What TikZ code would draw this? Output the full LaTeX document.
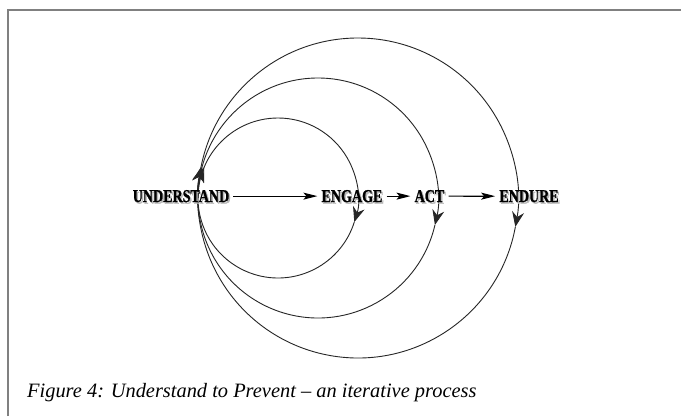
\documentclass[tikz,border=0pt]{standalone}
\usepackage{fontspec}
\setmainfont{Liberation Serif}
\newfontfamily\labelfont[FakeStretch=0.78,FakeBold=1.2]{Liberation Serif}
\usetikzlibrary{arrows.meta}
\tikzset{
  lbl/.style={font=\labelfont\bfseries\fontsize{18}{18}\selectfont, inner xsep=4pt, inner ysep=0pt, anchor=base},
  lblshadow/.style={lbl, text=black!28},
  loopline/.style={draw=black!85, line width=0.9pt},
  looptip/.style={-{Stealth[length=15pt,width=12pt,inset=5pt]}},
  flow/.style={line width=1.2pt, -{Stealth[length=14pt,width=7pt,inset=3pt]}},
  frameline/.style={draw=black!50, line width=1.5pt},
  captionstyle/.style={font=\itshape\fontsize{20.4}{24}\selectfont, inner sep=0pt, anchor=base west}
}
\begin{document}
\begin{tikzpicture}[x=1pt,y=1pt]
\useasboundingbox (0,0) rectangle (681,416);
\fill[white] (0,0) rectangle (681,416);
\draw[frameline] (8,0) -- (8,406) -- (681,406);

% circles
\coordinate (C1) at (278,218);
\coordinate (C2) at (318,218);
\coordinate (C3) at (358,218);
\draw[loopline, looptip] (C1) ++(180:80) arc[start angle=180, end angle=-17.5, radius=80];
\draw[loopline, looptip] (C1) ++(-17.5:80) arc[start angle=-17.5, end angle=-202.8, radius=80];
\draw[loopline, looptip] (C2) ++(180:120) arc[start angle=180, end angle=-13, radius=120];
\draw[loopline, looptip] (C2) ++(-13:120) arc[start angle=-13, end angle=-195, radius=120];
\draw[loopline, looptip] (C3) ++(180:160) arc[start angle=180, end angle=-10.4, radius=160];
\draw[loopline, looptip] (C3) ++(-10.4:160) arc[start angle=-10.4, end angle=-191.2, radius=160];

% label shadows
\node[lblshadow] (sU) at (182.5,212.3) {UNDERSTAND};
\node[lblshadow] (sE) at (353.5,212.3) {ENGAGE};
\node[lblshadow] (sA) at (431,212.3) {ACT};
\node[lblshadow] (sD) at (530.5,212.3) {ENDURE};
% labels
\node[lbl] (U) at (181,214) {UNDERSTAND};
\node[lbl] (E) at (352,214) {ENGAGE};
\node[lbl] (A) at (429.5,214) {ACT};
\node[lbl] (D) at (529,214) {ENDURE};

\draw[flow] (U) -- (E);
\draw[flow] (E) -- (A);
\draw[flow] (A) -- (D);

\node[captionstyle] (cap) at (27,19) {Figure 4: Understand to Prevent – an iterative process};
\end{tikzpicture}
\end{document}
